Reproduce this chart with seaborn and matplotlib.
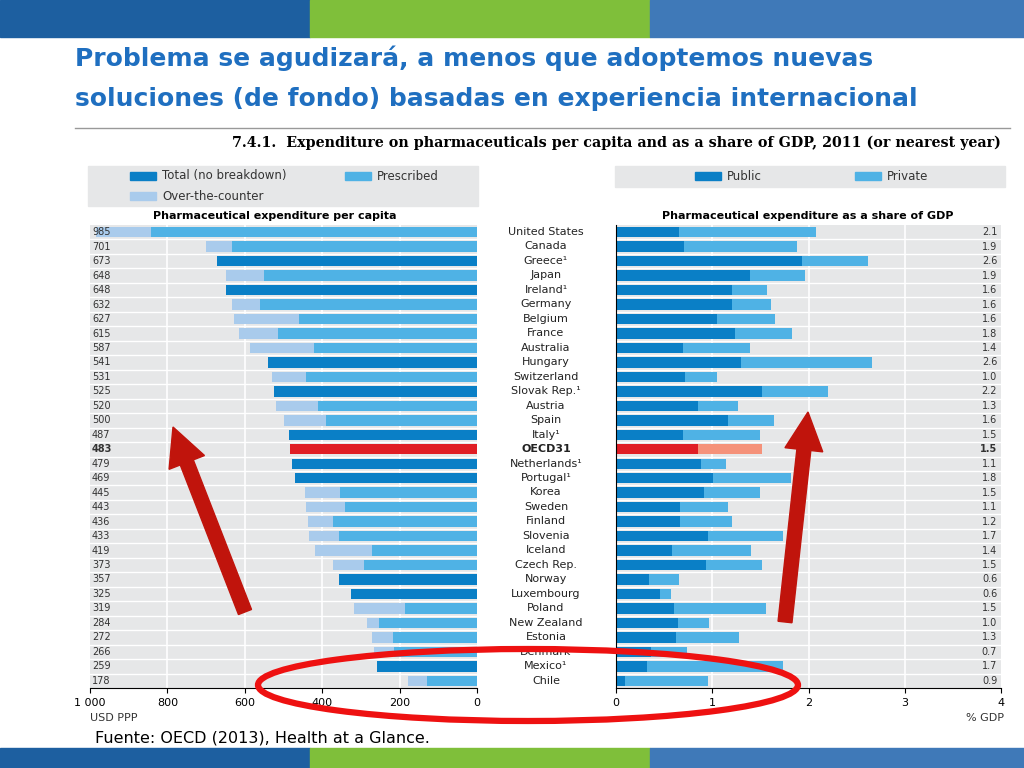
import numpy as np
import pandas as pd
import matplotlib
matplotlib.use("Agg")
import matplotlib.pyplot as plt
from matplotlib.patches import Rectangle, Ellipse, FancyArrow
import seaborn as sns

countries = ["United States","Canada","Greece¹","Japan","Ireland¹","Germany","Belgium","France",
             "Australia","Hungary","Switzerland","Slovak Rep.¹","Austria","Spain","Italy¹","OECD31",
             "Netherlands¹","Portugal¹","Korea","Sweden","Finland","Slovenia","Iceland","Czech Rep.",
             "Norway","Luxembourg","Poland","New Zealand","Estonia","Denmark","Mexico¹","Chile"]
per_capita = [985,701,673,648,648,632,627,615,587,541,531,525,520,500,487,483,
              479,469,445,443,436,433,419,373,357,325,319,284,272,266,259,178]
# prescribed part (None = total with no breakdown)
prescribed = [843,633,None,551,None,561,460,514,422,None,442,None,411,390,None,None,
              None,None,354,341,372,357,272,292,None,None,187,253,218,214,None,130]
gdp_total = [2.08,1.88,2.62,1.96,1.57,1.61,1.65,1.83,1.39,2.66,1.05,2.20,1.27,1.64,1.50,1.52,
             1.14,1.82,1.50,1.16,1.20,1.74,1.40,1.52,0.65,0.57,1.56,0.97,1.28,0.74,1.74,0.96]
gdp_public = [0.65,0.71,1.93,1.39,1.21,1.20,1.05,1.24,0.70,1.30,0.72,1.52,0.85,1.16,0.70,0.85,
              0.88,1.01,0.91,0.66,0.66,0.96,0.58,0.94,0.34,0.46,0.60,0.64,0.62,0.36,0.32,0.09]
gdp_labels = ["2.1","1.9","2.6","1.9","1.6","1.6","1.6","1.8","1.4","2.6","1.0","2.2","1.3","1.6","1.5","1.5",
              "1.1","1.8","1.5","1.1","1.2","1.7","1.4","1.5","0.6","0.6","1.5","1.0","1.3","0.7","1.7","0.9"]

DARK, MID, LIGHT, RED, SALMON = "#0a7fc6", "#4fb2e5", "#a9cbec", "#e01e25", "#f5927a"
BG = "#e6e7e8"
n = len(countries)
oecd = countries.index("OECD31")

df = pd.DataFrame({"c": countries, "pc": per_capita,
                   "pr": [p if p is not None else 0 for p in prescribed],
                   "gt": gdp_total, "gp": gdp_public})

fig = plt.figure(figsize=(10.24, 7.68), dpi=100)
W, H = 1024, 768
def fa(x0, y0, x1, y1):
    return [x0/W, 1-y1/H, (x1-x0)/W, (y1-y0)/H]

bg = fig.add_axes([0,0,1,1]); bg.set_xlim(0,W); bg.set_ylim(H,0); bg.axis("off")
bg.add_patch(Rectangle((0,0),310,37,color="#1d5fa0"))
bg.add_patch(Rectangle((310,0),340,37,color="#7fbf3a"))
bg.add_patch(Rectangle((650,0),374,37,color="#3f79b8"))
bg.add_patch(Rectangle((0,748),310,20,color="#1d5fa0"))
bg.add_patch(Rectangle((310,748),340,20,color="#7fbf3a"))
bg.add_patch(Rectangle((650,748),374,20,color="#3f79b8"))
bg.text(75,58,"Problema se agudizará, a menos que adoptemos nuevas",fontsize=18,fontweight="bold",color="#1f6fc0",va="center")
bg.text(75,99,"soluciones (de fondo) basadas en experiencia internacional",fontsize=18,fontweight="bold",color="#1f6fc0",va="center")
bg.plot([75,1010],[128,128],color="#999999",lw=1)
bg.text(232,143,"7.4.1.  Expenditure on pharmaceuticals per capita and as a share of GDP, 2011 (or nearest year)",
        fontsize=10.3,fontweight="bold",family="DejaVu Serif",va="center")
bg.add_patch(Rectangle((88,166),390,40,color=BG))
bg.add_patch(Rectangle((615,166),390,21,color=BG))
for (x,y,c,t) in [(130,176,DARK,"Total (no breakdown)"),(345,176,MID,"Prescribed"),(130,196,LIGHT,"Over-the-counter"),
                  (695,176,DARK,"Public"),(855,176,MID,"Private")]:
    bg.add_patch(Rectangle((x,y-4),26,8,color=c))
    bg.text(x+32,y,t,fontsize=8.5,va="center",color="#333333")
bg.text(275,216,"Pharmaceutical expenditure per capita",fontsize=8,fontweight="bold",ha="center",va="center")
bg.text(808,216,"Pharmaceutical expenditure as a share of GDP",fontsize=8,fontweight="bold",ha="center",va="center")
bg.text(95,738,"Fuente: OECD (2013), Health at a Glance.",fontsize=11.5,va="center")
bg.text(90,718,"USD PPP",fontsize=8,va="center",color="#333333")
bg.text(1004,718,"% GDP",fontsize=8,va="center",ha="right",color="#333333")

axL = fig.add_axes(fa(90,225,477,688))
axL.set_facecolor(BG)
cols1 = [RED if i==oecd else (LIGHT if prescribed[i] is not None else DARK) for i in range(n)]
sns.barplot(data=df, x="pc", y="c", hue="c", palette=cols1, legend=False, ax=axL, width=0.72, orient="h", saturation=1)
sns.barplot(data=df, x="pr", y="c", hue="c", palette=[MID]*n, legend=False, ax=axL, width=0.72, orient="h", saturation=1)
axL.set_xlim(1000,0); axL.set_ylim(n-0.5,-0.5)
for v in [200,400,600,800]: axL.axvline(v,color="white",lw=1.2,zorder=0)
for i in range(n-1): axL.axhline(i+0.5,color="white",lw=1,zorder=0)
for i,v in enumerate(per_capita):
    axL.text(995,i,str(v),fontsize=7,va="center",ha="left",color="#333333",fontweight="bold" if i==oecd else "normal")
axL.set_xticks([1000,800,600,400,200,0]); axL.set_xticklabels(["1 000","800","600","400","200","0"],fontsize=8)
axL.set_yticks([]); axL.set_xlabel(""); axL.set_ylabel("")
for s in ["top","left","right"]: axL.spines[s].set_visible(False)

axR = fig.add_axes(fa(616,225,1001,688))
axR.set_facecolor(BG)
sns.barplot(data=df, x="gt", y="c", hue="c", palette=[SALMON if i==oecd else MID for i in range(n)], legend=False, ax=axR, width=0.72, orient="h", saturation=1)
sns.barplot(data=df, x="gp", y="c", hue="c", palette=[RED if i==oecd else DARK for i in range(n)], legend=False, ax=axR, width=0.72, orient="h", saturation=1)
axR.set_xlim(0,4); axR.set_ylim(n-0.5,-0.5)
for v in [1,2,3]: axR.axvline(v,color="white",lw=1.2,zorder=0)
for i in range(n-1): axR.axhline(i+0.5,color="white",lw=1,zorder=0)
for i,t in enumerate(gdp_labels):
    axR.text(3.96,i,t,fontsize=7,va="center",ha="right",color="#333333",fontweight="bold" if i==oecd else "normal")
axR.set_xticks([0,1,2,3,4]); axR.set_xticklabels(["0","1","2","3","4"],fontsize=8)
axR.set_yticks([]); axR.set_xlabel(""); axR.set_ylabel("")
for s in ["top","bottom","right"]: axR.spines[s].set_visible(s=="bottom")

for i,c in enumerate(countries):
    y = 232 + i*14.47
    bg.text(546,y,c,fontsize=8,ha="center",va="center",color="#222222",fontweight="bold" if i==oecd else "normal")

# annotation overlay on top
ov = fig.add_axes([0,0,1,1]); ov.set_xlim(0,W); ov.set_ylim(H,0); ov.axis("off"); ov.patch.set_alpha(0)
ov.add_patch(FancyArrow(245,612,-72,-185,width=14,head_width=38,head_length=38,color="#c0140c",length_includes_head=True))
ov.add_patch(FancyArrow(785,622,23,-210,width=14,head_width=38,head_length=38,color="#c0140c",length_includes_head=True))
ov.add_patch(Ellipse((528,685),540,72,fill=False,edgecolor="#ee1111",lw=4.5))

fig.savefig("out.png",dpi=100)
